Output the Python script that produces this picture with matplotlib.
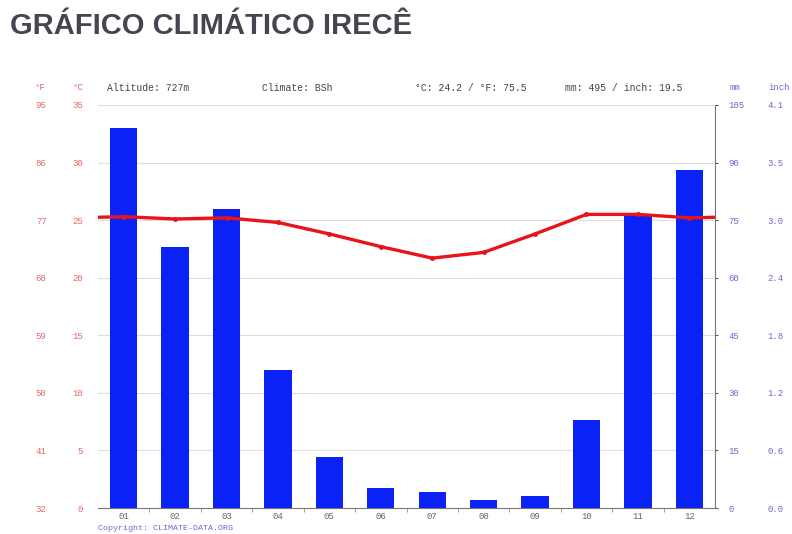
import numpy as np
import matplotlib
matplotlib.use('Agg')
import matplotlib.pyplot as plt
from matplotlib.ticker import FixedLocator

# dados climáticos - Irecê
months = ['01', '02', '03', '04', '05', '06', '07', '08', '09', '10', '11', '12']
precip_mm = [99, 68, 78, 36, 13.3, 5.1, 4.2, 2.2, 3.1, 23, 76.6, 88]
temp_c = [25.3, 25.1, 25.2, 24.8, 23.8, 22.7, 21.7, 22.2, 23.8, 25.5, 25.5, 25.2]

c_ticks = [0, 5, 10, 15, 20, 25, 30, 35]
mm_ticks = [0, 15, 30, 45, 60, 75, 90, 105]

header = ['Altitude: 727m', 'Climate: BSh', '°C: 24.2 / °F: 75.5', 'mm: 495 / inch: 19.5']
title = 'GRÁFICO CLIMÁTICO IRECÊ'

red = '#e8141a'
red_lbl = '#e06a6a'
blue = '#0a22f5'
blue_lbl = '#6a6ad0'
mono = 'Liberation Mono'

fig = plt.figure(figsize=(7.92, 5.34), dpi=100)
ax = fig.add_axes([98/792, 1-508/534, 617/792, 403/534])
ax2 = ax.twinx()

x = np.arange(1, 13)

# barras de precipitação (eixo da direita)
ax2.bar(x, precip_mm, width=0.53, color=blue, zorder=2)
ax2.set_ylim(0, 105)
ax2.set_yticks(mm_ticks)
ax2.set_yticklabels([str(v) for v in mm_ticks], color=blue_lbl, fontsize=6.5, fontname=mono)
ax2.tick_params(axis='y', direction='out', length=2.5, pad=7, color='#555555')

# temperatura (eixo da esquerda) - linha estendida até as bordas
ax.set_zorder(ax2.get_zorder() + 1)
ax.patch.set_visible(False)
edge = (temp_c[0] + temp_c[-1]) / 2
xl = np.concatenate([[0.5], x, [12.5]])
yl = np.concatenate([[edge], temp_c, [edge]])
ax.plot(xl, yl, color=red, lw=2.4, zorder=3)
ax.plot(x, temp_c, 'o', color=red, ms=2.5, zorder=4)
ax.set_ylim(0, 35)
ax.set_xlim(0.5, 12.5)
ax.set_yticks(c_ticks)
ax.set_yticklabels([str(v) for v in c_ticks], color=red_lbl, fontsize=6.5, fontname=mono)
ax.tick_params(axis='y', length=0, pad=11)

# grade horizontal
for v in c_ticks[1:]:
    ax2.axhline(v * 3, color='#dddddd', lw=0.8, zorder=0)

ax.set_xticks(x)
ax.set_xticklabels(months, fontsize=6.5, fontname=mono, color='#666666')
ax.xaxis.set_minor_locator(FixedLocator(np.arange(1.5, 12, 1)))
ax.tick_params(axis='x', which='major', length=0, pad=3)
ax.tick_params(axis='x', which='minor', length=3, color='#888888')

for a in (ax, ax2):
    a.spines['top'].set_visible(False)
    a.spines['left'].set_visible(False)
    a.spines['right'].set_visible(False)
ax.spines['bottom'].set_color('#777777')
ax2.spines['bottom'].set_visible(False)
ax2.spines['right'].set_visible(True)
ax2.spines['right'].set_color('#777777')

# eixo °F
sec_f = ax.secondary_yaxis('left', functions=(lambda c: c * 9 / 5 + 32, lambda f: (f - 32) * 5 / 9))
sec_f.set_yticks([c * 9 / 5 + 32 for c in c_ticks])
sec_f.set_yticklabels([str(int(round(c * 9 / 5 + 32))) for c in c_ticks], color=red_lbl, fontsize=6.5, fontname=mono)
sec_f.tick_params(length=0, pad=37)
sec_f.spines['left'].set_visible(False)

# eixo inch
sec_in = ax2.secondary_yaxis('right', functions=(lambda m: m / 25.4, lambda i: i * 25.4))
sec_in.set_yticks([m / 25.4 for m in mm_ticks])
sec_in.set_yticklabels(['%.1f' % (m / 25.4) for m in mm_ticks], color=blue_lbl, fontsize=6.5, fontname=mono)
sec_in.tick_params(length=0, pad=38)
sec_in.spines['right'].set_visible(False)

# cabeçalho
fig.text(40/792, 1-88/534, '°F', color=red_lbl, fontsize=6.5, fontname=mono, ha='center', va='center')
fig.text(78/792, 1-88/534, '°C', color=red_lbl, fontsize=6.5, fontname=mono, ha='center', va='center')
fig.text(730/792, 1-88/534, 'mm', color=blue_lbl, fontsize=6.5, fontname=mono, ha='left', va='center')
fig.text(768/792, 1-88/534, 'inch', color=blue_lbl, fontsize=6.5, fontname=mono, ha='left', va='center')
for xpos, txt in zip([107, 262, 415, 565], header):
    fig.text(xpos/792, 1-88/534, txt, color='#444444', fontsize=7, fontname=mono, ha='left', va='center')

fig.text(10/792, 1-26/534, title, color='#45454f', fontsize=21, fontweight='bold',
         fontname='Liberation Sans', ha='left', va='center')
fig.text(98/792, 1-529/534, 'Copyright: CLIMATE-DATA.ORG', color=blue_lbl, fontsize=6,
         fontname=mono, ha='left', va='center')

plt.savefig('out.png', dpi=100)
